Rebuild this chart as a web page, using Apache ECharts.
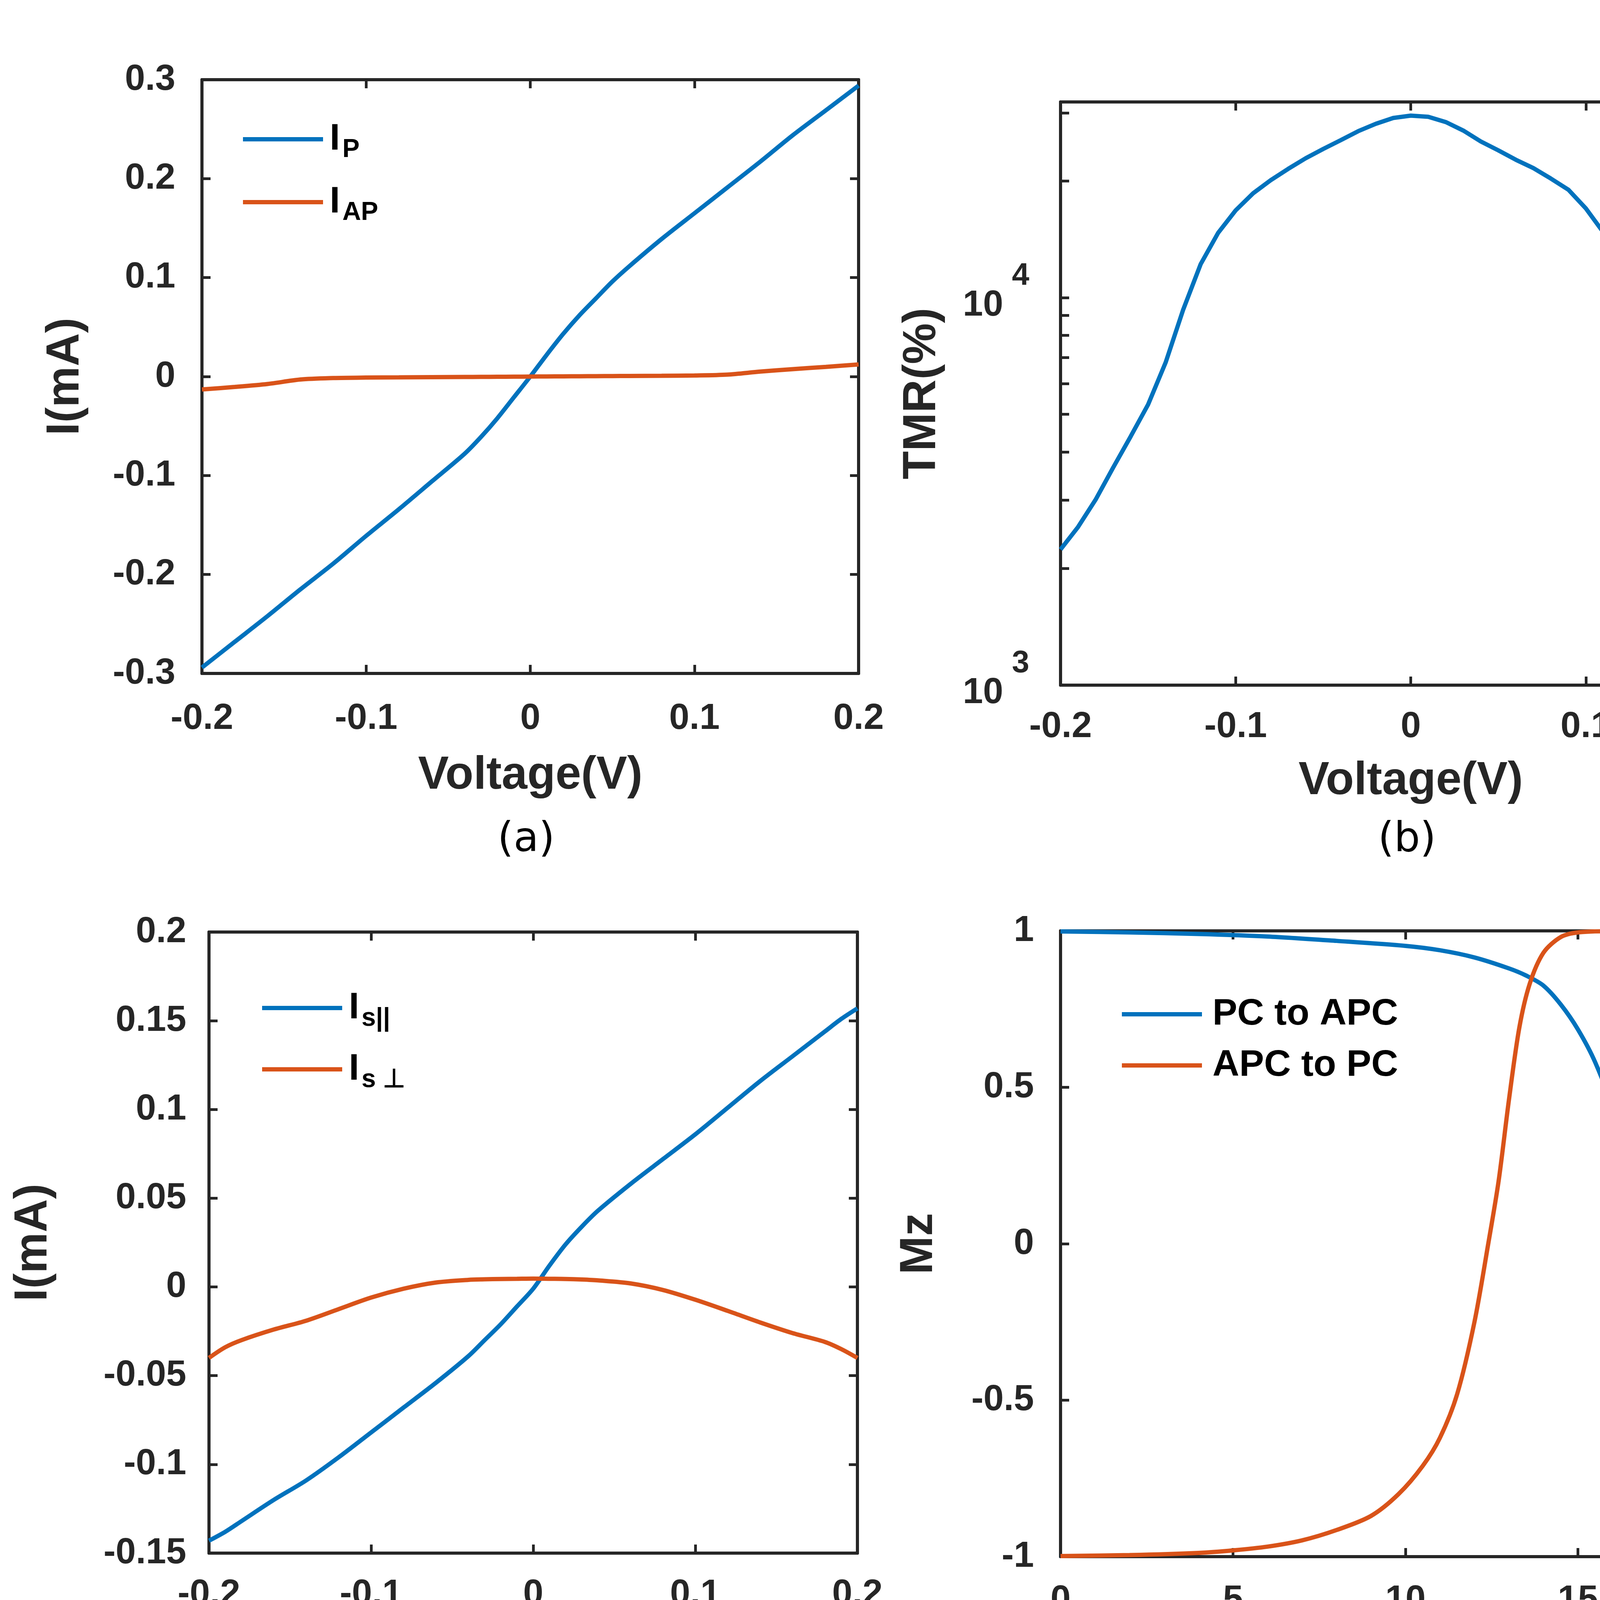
<!DOCTYPE html>
<html>
<head>
<meta charset="utf-8">
<script src="https://cdn.jsdelivr.net/npm/echarts@6.0.0/dist/echarts.min.js"></script>
<style>
  html, body { margin: 0; padding: 0; background: #fff; }
  #main { width: 4711px; height: 4413px; }
</style>
</head>
<body>
<div id="main"></div>
<script>
// (a) I-V of parallel / antiparallel states
const voltA = [-0.2, -0.18, -0.16, -0.14, -0.12, -0.1, -0.08, -0.06, -0.04, -0.03, -0.02, -0.01, 0,
  0.01, 0.02, 0.03, 0.04, 0.05, 0.06, 0.08, 0.1, 0.12, 0.14, 0.16, 0.18, 0.2];
const currP = [-0.294, -0.268, -0.242, -0.215, -0.189, -0.161, -0.134, -0.106, -0.078, -0.061, -0.042, -0.021, 0,
  0.022, 0.043, 0.062, 0.079, 0.096, 0.111, 0.139, 0.165, 0.191, 0.217, 0.244, 0.269, 0.294];
const currAP = [-0.013, -0.0105, -0.0075, -0.003, -0.0015, -0.001, -0.0008, -0.0006, -0.0004, -0.0003, -0.0002, -0.0001, 0,
  0.0001, 0.0002, 0.0003, 0.0004, 0.0005, 0.0006, 0.0008, 0.0011, 0.002, 0.005, 0.0075, 0.0098, 0.0122];

// (b) TMR vs voltage (log scale)
const voltB = [-0.2, -0.19, -0.18, -0.17, -0.16, -0.15, -0.14, -0.13, -0.12, -0.11, -0.1, -0.09, -0.08, -0.07,
  -0.06, -0.05, -0.04, -0.03, -0.02, -0.01, 0, 0.01, 0.02, 0.03, 0.04, 0.05, 0.06, 0.07, 0.08, 0.09, 0.1,
  0.11, 0.12, 0.13, 0.14, 0.15, 0.16, 0.17, 0.18, 0.19, 0.2];
const tmr = [2240, 2560, 3010, 3640, 4380, 5300, 6800, 9300, 12200, 14700, 16800, 18600, 20100, 21500,
  22900, 24200, 25500, 26900, 28100, 29100, 29500, 29300, 28400, 27000, 25300, 24000, 22700, 21600, 20300, 19000, 17000,
  14750, 12200, 9800, 7700, 6000, 4820, 3850, 3110, 2570, 2240];
const tmrTicks = [1000, 2000, 3000, 4000, 5000, 6000, 7000, 8000, 9000, 10000, 20000, 30000];

// (c) spin currents
const voltC = [-0.2, -0.19, -0.18, -0.16, -0.14, -0.12, -0.1, -0.08, -0.06, -0.04, -0.03, -0.02, -0.01, 0,
  0.01, 0.02, 0.03, 0.04, 0.06, 0.08, 0.1, 0.12, 0.14, 0.16, 0.18, 0.19, 0.2];
const spinPar = [-0.143, -0.138, -0.132, -0.120, -0.109, -0.096, -0.082, -0.068, -0.054, -0.039, -0.030, -0.021, -0.011, -0.001,
  0.012, 0.024, 0.034, 0.043, 0.058, 0.072, 0.086, 0.101, 0.116, 0.130, 0.144, 0.151, 0.157];
const spinPerp = [-0.040, -0.034, -0.030, -0.024, -0.019, -0.0125, -0.006, -0.001, 0.0025, 0.004, 0.0043, 0.0045, 0.0046, 0.0047,
  0.0046, 0.0045, 0.0042, 0.0037, 0.002, -0.0017, -0.0072, -0.0135, -0.020, -0.026, -0.031, -0.035, -0.040];

// (d) switching Mz(t)
const tPc = [0, 2, 4, 6, 8, 10, 11, 12, 13, 13.5, 14, 14.5, 15, 15.5, 16, 16.5, 16.8, 17, 17.2, 17.4, 17.6, 17.8, 18, 18.3, 18.7, 19.2, 20];
const mzPc = [0.998, 0.995, 0.99, 0.982, 0.968, 0.952, 0.938, 0.915, 0.88, 0.857, 0.825, 0.765, 0.685, 0.58, 0.43, 0.16, 0.01,
  -0.14, -0.33, -0.54, -0.68, -0.79, -0.87, -0.94, -0.977, -0.992, -0.999];
const tApc = [0, 2, 4, 5, 6, 7, 8, 9, 9.8, 10.5, 11, 11.5, 12, 12.4, 12.7, 13, 13.3, 13.6, 14, 14.5, 15, 16, 20];
const mzApc = [-0.998, -0.995, -0.988, -0.98, -0.968, -0.948, -0.915, -0.87, -0.8, -0.71, -0.62, -0.48, -0.25, 0.0,
  0.2, 0.46, 0.69, 0.83, 0.93, 0.98, 0.995, 0.999, 1.0];

const legendText = {
  'I_P': '{m|I}{s|P}',
  'I_AP': '{m|I}{s|AP}',
  'I_s||': '{m|I}{s|s||}',
  'I_sperp': '{m|I}{s|s \u22A5}',
  'PC to APC': '{t|PC to APC}',
  'APC to PC': '{t|APC to PC}'
};

const BLUE = '#0072BD';
const ORANGE = '#D95319';
const INK = '#262626';
const FONT = 'Liberation Sans';

const pairs = (xs, ys) => xs.map((x, i) => [x, ys[i]]);
const fmt = v => String(+Number(v).toFixed(3));

const lineStyle = { color: INK, width: 8 };
const tickStyle = { inside: true, length: 22, lineStyle: { color: INK, width: 7 } };
const labelStyle = { color: INK, fontSize: 93, fontWeight: 'bold', fontFamily: FONT };
const nameStyle = { color: INK, fontSize: 118, fontWeight: 'bold', fontFamily: FONT };

function xPair(grid, min, max, step, name, gap, margin) {
  return [
    { type: 'value', gridIndex: grid, position: 'bottom', min: min, max: max, interval: step,
      name: name, nameLocation: 'middle', nameGap: gap, nameTextStyle: nameStyle,
      axisLine: { onZero: false, lineStyle: lineStyle }, axisTick: tickStyle,
      axisLabel: Object.assign({ margin: margin, formatter: fmt }, labelStyle), splitLine: { show: false } },
    { type: 'value', gridIndex: grid, position: 'top', min: min, max: max, interval: step,
      axisLine: { onZero: false, lineStyle: lineStyle }, axisTick: tickStyle,
      axisLabel: { show: false }, splitLine: { show: false } }
  ];
}

function yPair(grid, min, max, step, name, gap, margin) {
  return [
    { type: 'value', gridIndex: grid, position: 'left', min: min, max: max, interval: step,
      name: name, nameLocation: 'middle', nameGap: gap, nameTextStyle: nameStyle,
      axisLine: { onZero: false, lineStyle: lineStyle }, axisTick: tickStyle,
      axisLabel: Object.assign({ margin: margin, formatter: fmt }, labelStyle), splitLine: { show: false } },
    { type: 'value', gridIndex: grid, position: 'right', min: min, max: max, interval: step,
      axisLine: { onZero: false, lineStyle: lineStyle }, axisTick: tickStyle,
      axisLabel: { show: false }, splitLine: { show: false } }
  ];
}

function logPair(grid, name, gap) {
  const ticks = Object.assign({ customValues: tmrTicks }, tickStyle);
  return [
    { type: 'log', logBase: 10, gridIndex: grid, position: 'left', min: 1000, max: 32000,
      name: name, nameLocation: 'middle', nameGap: gap, nameTextStyle: nameStyle,
      axisLine: { onZero: false, lineStyle: lineStyle }, axisTick: ticks,
      axisLabel: Object.assign({
        margin: 80, customValues: [1000, 10000],
        formatter: v => (Math.abs(v - 1000) < 1 ? '{b|10}{p| 3}' : Math.abs(v - 10000) < 1 ? '{b|10}{p| 4}' : ''),
        rich: {
          b: { fontSize: 93, fontWeight: 'bold', fontFamily: FONT, color: INK, padding: [40, 0, 0, 0] },
          p: { fontSize: 80, fontWeight: 'bold', fontFamily: FONT, color: INK, padding: [0, 0, 110, 0] }
        }
      }, labelStyle), splitLine: { show: false } },
    { type: 'log', logBase: 10, gridIndex: grid, position: 'right', min: 1000, max: 32000,
      axisLine: { onZero: false, lineStyle: lineStyle }, axisTick: ticks,
      axisLabel: { show: false }, splitLine: { show: false } }
  ];
}

function legendFor(names, left, top, gap) {
  return {
    data: names, orient: 'vertical', left: left, top: top, itemGap: gap,
    icon: 'rect', itemWidth: 205, itemHeight: 11,
    formatter: n => legendText[n],
    textStyle: {
      rich: {
        m: { fontSize: 95, fontWeight: 'bold', fontFamily: FONT, color: '#000', padding: [0, 0, 0, 12] },
        s: { fontSize: 66, fontWeight: 'bold', fontFamily: FONT, color: '#000', padding: [55, 0, 0, 6] },
        t: { fontSize: 95, fontWeight: 'bold', fontFamily: FONT, color: '#000', padding: [0, 0, 0, 22], lineHeight: 110 }
      }
    }
  };
}

function curve(name, x, y, data, color, smooth) {
  return { name: name, type: 'line', xAxisIndex: x, yAxisIndex: y, data: data,
    showSymbol: false, smooth: smooth, color: color, lineStyle: { color: color, width: 11 }, z: 3 };
}

const chart = echarts.init(document.getElementById('main'), null, { renderer: 'canvas' });

const caption = (txt, x, y) => ({ type: 'text', x: x, y: y,
  style: { text: txt, fill: '#000', font: '105px "DejaVu Sans"', textAlign: 'center', textVerticalAlign: 'middle' } });

chart.setOption({
  animation: false,
  backgroundColor: '#fff',
  grid: [
    { left: 517, top: 204, width: 1681, height: 1520 },
    { left: 2715, top: 261, width: 1793, height: 1493 },
    { left: 535, top: 2386, width: 1660, height: 1590 },
    { left: 2715, top: 2383, width: 1766, height: 1602 }
  ],
  xAxis: [].concat(
    xPair(0, -0.2, 0.2, 0.1, 'Voltage(V)', 203, 70),
    xPair(1, -0.2, 0.2, 0.1, 'Voltage(V)', 187, 61),
    xPair(2, -0.2, 0.2, 0.1, 'Voltage(V)', 195, 60),
    xPair(3, 0, 20, 5, 't(ns)', 198, 66)
  ),
  yAxis: [].concat(
    yPair(0, -0.3, 0.3, 0.1, 'I(mA)', 290, 68),
    logPair(1, 'TMR(%)', 295),
    yPair(2, -0.15, 0.2, 0.05, 'I(mA)', 390, 58),
    yPair(3, -1, 1, 0.5, 'Mz', 303, 68)
  ),
  legend: [
    legendFor(['I_P', 'I_AP'], 617, 304, 53),
    legendFor(['I_s||', 'I_sperp'], 666, 2528, 49),
    legendFor(['PC to APC', 'APC to PC'], 2867, 2544, 36)
  ],
  series: [
    curve('I_P', 0, 0, pairs(voltA, currP), BLUE, 0.3),
    curve('I_AP', 0, 0, pairs(voltA, currAP), ORANGE, 0.3),
    curve('TMR', 2, 2, pairs(voltB, tmr), BLUE, false),
    curve('I_s||', 4, 4, pairs(voltC, spinPar), BLUE, 0.3),
    curve('I_sperp', 4, 4, pairs(voltC, spinPerp), ORANGE, 0.3),
    curve('PC to APC', 6, 6, pairs(tPc, mzPc), BLUE, 0.3),
    curve('APC to PC', 6, 6, pairs(tApc, mzApc), ORANGE, 0.3)
  ],
  graphic: [
    caption('(a)', 1347, 2152),
    caption('(b)', 3602, 2152),
    caption('(c)', 1365, 4365),
    caption('(d)', 3602, 4365)
  ]
});
</script>
</body>
</html>
